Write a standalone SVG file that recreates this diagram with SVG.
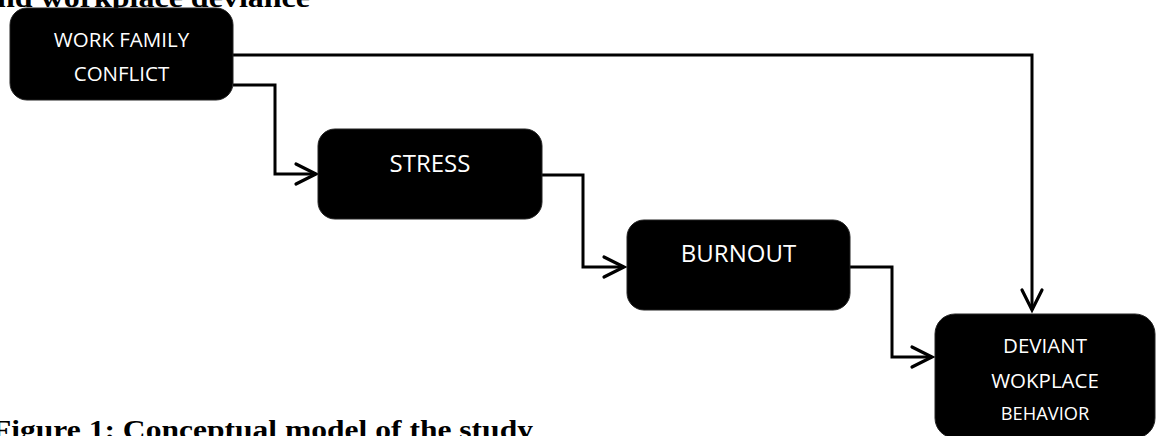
<svg xmlns="http://www.w3.org/2000/svg" width="1156" height="436" viewBox="0 0 1156 436">
  <style>
    .box { fill: #000; stroke: #222; stroke-width: 1; }
    .lbl { fill: #fff; font-family: "Open Sans", "Liberation Sans", sans-serif; text-anchor: middle; }
    .conn { fill: none; stroke: #000; stroke-width: 3; stroke-linejoin: miter; }
    .cap { fill: #000; font-family: "Liberation Serif", "Times New Roman", serif; font-weight: bold; font-size: 28px; }
  </style>
  <defs>
    <marker id="arrow" markerUnits="userSpaceOnUse" markerWidth="30" markerHeight="30" viewBox="-25 -15 30 30" refX="0" refY="0" orient="auto">
      <path d="M -20 -10 L 0 0 L -20 10" fill="none" stroke="#000" stroke-width="3.2" stroke-linecap="round" stroke-linejoin="miter"/>
    </marker>
  </defs>
  <rect width="1156" height="436" fill="#fff"/>

  <text class="cap" x="-3" y="6.5" textLength="313" lengthAdjust="spacingAndGlyphs">nd workplace deviance</text>
  <text class="cap" x="-8" y="439" textLength="541" lengthAdjust="spacingAndGlyphs">Figure 1: Conceptual model of the study</text>

  <g id="connectors">
    <path class="conn" d="M 233 55 H 1032 V 310" marker-end="url(#arrow)"/>
    <path class="conn" d="M 233 85 H 275 V 174 H 316" marker-end="url(#arrow)"/>
    <path class="conn" d="M 542 175 H 583 V 267 H 624" marker-end="url(#arrow)"/>
    <path class="conn" d="M 850 267 H 892 V 357 H 932" marker-end="url(#arrow)"/>
  </g>

  <g id="node-wfc">
    <rect class="box" x="10" y="8" width="223" height="92" rx="17"/>
    <text class="lbl" x="121.5" y="46.7" font-size="20.5">WORK FAMILY</text>
    <text class="lbl" x="121.5" y="81" font-size="20.5">CONFLICT</text>
  </g>
  <g id="node-stress">
    <rect class="box" x="318" y="129" width="224" height="90" rx="17"/>
    <text class="lbl" x="430" y="171.7" font-size="24">STRESS</text>
  </g>
  <g id="node-burnout">
    <rect class="box" x="627" y="220" width="223" height="90" rx="17"/>
    <text class="lbl" x="738.5" y="262" font-size="24">BURNOUT</text>
  </g>
  <g id="node-deviant">
    <rect class="box" x="935" y="314" width="220" height="124" rx="20"/>
    <text class="lbl" x="1045" y="353" font-size="20.5">DEVIANT</text>
    <text class="lbl" x="1045" y="387.5" font-size="20.5">WOKPLACE</text>
    <text class="lbl" x="1045" y="420" font-size="18.3">BEHAVIOR</text>
  </g>
</svg>
